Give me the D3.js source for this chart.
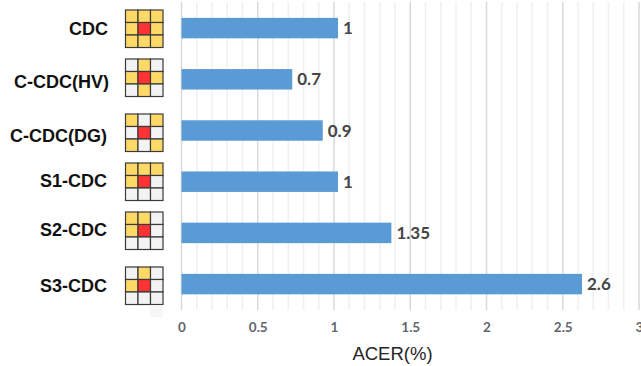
<!DOCTYPE html>
<html>
<head>
<meta charset="utf-8">
<script src="https://cdnjs.cloudflare.com/ajax/libs/d3/7.8.5/d3.min.js"></script>
<style>
html,body{margin:0;padding:0;background:#fff;overflow:hidden}
svg{display:block}
.tick text{font-family:Lato,sans-serif;font-weight:700;font-size:13.5px;fill:#5f6670}
</style>
</head>
<body>
<svg id="chart" width="641" height="366"></svg>
<script>
// Error rate per central difference operator
const methods = ["CDC", "C-CDC(HV)", "C-CDC(DG)", "S1-CDC", "S2-CDC", "S3-CDC"];
const acer = [1, 0.7, 0.9, 1, 1.35, 2.6];
const valueLabels = ["1", "0.7", "0.9", "1", "1.35", "2.6"];
const axisTicks = [0, 0.5, 1, 1.5, 2, 2.5, 3];
const gridTicks = d3.range(0, 31).map(i => i / 10);

// 3x3 neighbourhood used by each operator: 1 sampled, 0 skipped, 2 centre
const patterns = [
  [1,1,1, 1,2,1, 1,1,1],
  [0,1,0, 1,2,1, 0,1,0],
  [1,0,1, 0,2,0, 1,0,1],
  [1,1,1, 1,2,0, 0,0,0],
  [1,1,0, 1,2,0, 0,0,0],
  [0,1,0, 1,2,0, 0,0,0]
];
const cellFill = ["#f3f3f3", "#ffd966", "#ff3333"];

// Row offsets: the name and glyph columns are hand-spaced, unlike the bars
const nameRight = [108, 109, 107, 107, 107, 107];
const nameBaseline = [34.5, 87.5, 141.5, 187, 236, 292];
const glyphTop = [10, 59, 114, 163, 212, 267];

const svg = d3.select("#chart");
const x = d3.scaleLinear().domain([0, 3]).range([181.5, 639]);
const y = d3.scaleBand().domain(methods).range([2.5, 309.7]).paddingInner(0.6).paddingOuter(0.3);
const barOverhang = 4;
const plotTop = 2, plotBottom = 310;

// Gridlines: light every 0.1, darker every 0.5
svg.append("g").selectAll("line").data(gridTicks.filter(t => Math.round(t * 10) % 5 !== 0)).join("line")
  .attr("x1", d => x(d)).attr("x2", d => x(d))
  .attr("y1", plotTop).attr("y2", plotBottom)
  .attr("stroke", "#f0f0f0").attr("stroke-width", 1.5);
svg.append("g").selectAll("line").data(axisTicks).join("line")
  .attr("x1", d => x(d)).attr("x2", d => x(d))
  .attr("y1", plotTop).attr("y2", plotBottom)
  .attr("stroke", "#d9d9d9").attr("stroke-width", 1.5);

// Bars
svg.append("g").selectAll("rect").data(methods).join("rect")
  .attr("x", x(0))
  .attr("y", d => y(d))
  .attr("width", (d, i) => x(acer[i]) - x(0) + barOverhang)
  .attr("height", y.bandwidth())
  .attr("fill", "#5b9bd5");

// Value labels
svg.append("g").selectAll("text").data(methods).join("text")
  .attr("x", (d, i) => x(acer[i]) + barOverhang + 5)
  .attr("y", d => y(d) + y.bandwidth() / 2 + 6)
  .attr("font-family", "Lato,sans-serif")
  .attr("font-weight", 700)
  .attr("font-size", 17)
  .attr("fill", "#454545")
  .text((d, i) => valueLabels[i]);

// Bottom axis labels
const axis = d3.axisBottom(x).tickValues(axisTicks).tickSize(0).tickPadding(0).tickFormat(d3.format("~g"));
const axisG = svg.append("g").attr("transform", "translate(0,322)").call(axis);
axisG.select(".domain").remove();

svg.append("text")
  .attr("x", 392.5).attr("y", 360)
  .attr("text-anchor", "middle")
  .attr("font-family", "'Liberation Sans',sans-serif")
  .attr("font-size", 18.5)
  .attr("fill", "#262626")
  .text("ACER(%)");

// Operator names
svg.append("g").selectAll("text").data(methods).join("text")
  .attr("x", (d, i) => nameRight[i])
  .attr("y", (d, i) => nameBaseline[i])
  .attr("text-anchor", "end")
  .attr("font-family", "'Liberation Sans',sans-serif")
  .attr("font-weight", 700)
  .attr("font-size", 18)
  .attr("fill", "#111")
  .text(d => d);

// Neighbourhood glyphs
const cell = 12.5;
const glyphLeft = 125.5;
const glyphs = svg.append("g").selectAll("g").data(patterns).join("g")
  .attr("transform", (d, i) => `translate(${glyphLeft},${glyphTop[i]})`);
glyphs.selectAll("rect").data(d => d).join("rect")
  .attr("x", (d, i) => (i % 3) * cell)
  .attr("y", (d, i) => Math.floor(i / 3) * cell)
  .attr("width", cell).attr("height", cell)
  .attr("fill", d => cellFill[d])
  .attr("stroke", "#3a3a3a").attr("stroke-width", 1.2);

// Faint patch left under the last glyph
svg.append("rect").attr("x", 150).attr("y", 305).attr("width", 13).attr("height", 12).attr("fill", "#f6f6f6");
</script>
</body>
</html>
